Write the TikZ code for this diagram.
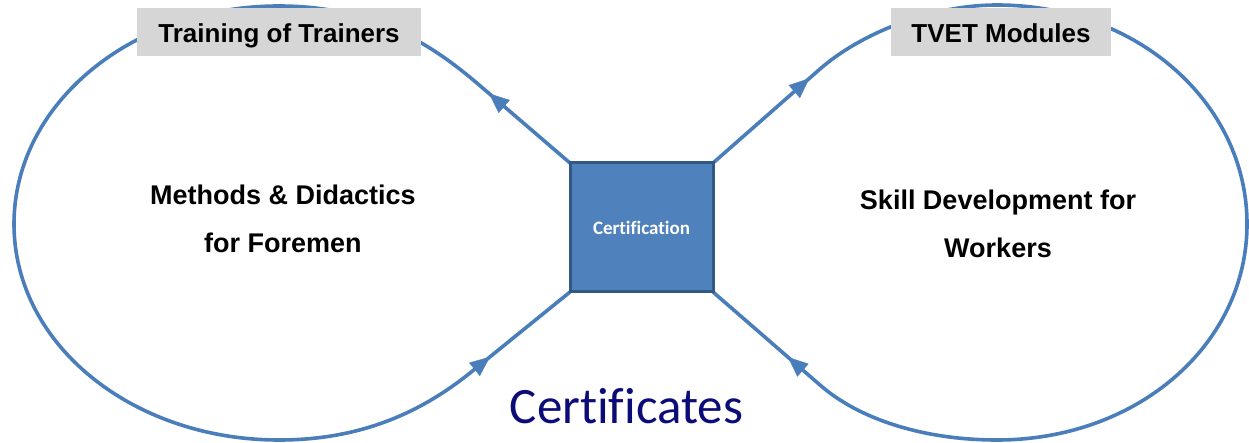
\documentclass[tikz,border=0pt]{standalone}
\usepackage{fontspec}
\setmainfont{Liberation Sans}
\newfontfamily\calibri[Ligatures=NoCommon]{Carlito}
\usetikzlibrary{arrows.meta,decorations.markings,backgrounds}
\definecolor{loopblue}{RGB}{74,126,187}
\definecolor{sqfill}{RGB}{79,129,189}
\definecolor{sqedge}{RGB}{52,88,132}
\definecolor{tagfill}{RGB}{214,214,214}
\definecolor{navytext}{RGB}{12,12,120}
\tikzset{
  loopline/.style={draw=loopblue, line width=3.6pt, line join=round},
  arrowmark/.style={loopblue, postaction={decorate},
    decoration={markings, mark=at position #1 with {\arrow[loopblue]{Triangle[length=20pt,width=17pt]}}}},
  tagbox/.style={fill=tagfill, inner sep=0pt, outer sep=0pt, minimum height=48pt,
    text height=24pt, text depth=2pt, font=\bfseries\fontsize{26}{30}\selectfont},
  certbox/.style={fill=sqfill, draw=sqedge, line width=3pt, minimum width=143pt,
    minimum height=129pt, inner sep=0pt, outer sep=0pt, text=white,
    font=\calibri\bfseries\fontsize{19}{22}\selectfont},
  midtext/.style={align=center, inner sep=0pt, font=\bfseries\fontsize{27}{48}\selectfont},
  bigtext/.style={inner sep=0pt, text=navytext, font=\calibri\fontsize{51}{60}\selectfont}
}
\begin{document}
\begin{tikzpicture}[x=1pt,y=-1pt]
\useasboundingbox (0,0) rectangle (1249,443);
\node[certbox] (cert) at (641.5,227.5) {Certification};
\node[tagbox, minimum width=284pt] (tot) at (279,32) {Training of Trainers};
\node[tagbox, minimum width=220pt] (tvet) at (1001,32) {TVET Modules};
\node[midtext] (mdf) at (283,219) {Methods \& Didactics\\for Foremen};
\node[midtext] (sdw) at (998,224) {Skill Development for\\Workers};
\node[bigtext, anchor=base] (certs) at (626.5,423) {Certificates};
\coordinate (L1) at (478,84);
\coordinate (L2) at (470,373);
\coordinate (R1) at (820,69);
\coordinate (R2) at (820,385);
\begin{scope}[on background layer]
\draw[loopline] (cert.north west) -- (L1)
  .. controls (430,43) and (372,6) .. (279,6)
  .. controls (133,6) and (14,103) .. (14,224)
  .. controls (14,345) and (133,440) .. (279,440)
  .. controls (360,440) and (420,413) .. (L2)
  -- (cert.south west);
\draw[loopline] (cert.north east) -- (R1)
  .. controls (860,34) and (930,5) .. (997,5)
  .. controls (1137,5) and (1247,103) .. (1247,224)
  .. controls (1247,345) and (1137,440) .. (997,440)
  .. controls (925,440) and (860,420) .. (R2)
  -- (cert.south east);
\path[arrowmark=0.88] (cert.north west) -- (L1);
\path[arrowmark=0.2] (L2) -- (cert.south west);
\path[arrowmark=0.9] (cert.north east) -- (R1);
\path[arrowmark=0.3] (R2) -- (cert.south east);
\end{scope}
\end{tikzpicture}
\end{document}
